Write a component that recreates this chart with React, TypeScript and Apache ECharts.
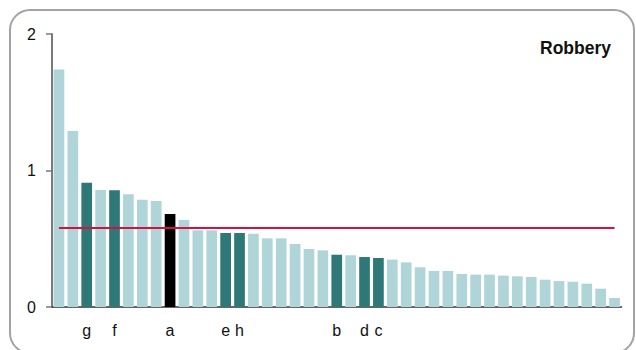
import React, { useEffect, useRef } from "react";
import * as echarts from "echarts";

const values = [
  1.74, 1.29, 0.91, 0.857, 0.855, 0.826, 0.786, 0.777, 0.681, 0.637,
  0.562, 0.562, 0.542, 0.542, 0.537, 0.503, 0.503, 0.462, 0.425, 0.415,
  0.383, 0.379, 0.366, 0.359, 0.347, 0.327, 0.291, 0.264, 0.264, 0.242,
  0.237, 0.237, 0.23, 0.225, 0.22, 0.2, 0.19, 0.185, 0.171, 0.134, 0.066,
];
const labels = [
  "", "", "g", "", "f", "", "", "", "a", "",
  "", "", "e", "h", "", "", "", "", "", "",
  "b", "", "d", "c", "", "", "", "", "", "",
  "", "", "", "", "", "", "", "", "", "", "",
];
const highlightedIdx = [2, 4, 12, 13, 20, 22, 23];
const focusIdx = [8];
const averageValue = 0.58;
const yTicks = [0, 1, 2];
const title = "Robbery";

const LIGHT = "#afd5d8";
const DARK = "#2e7878";
const FOCUS = "#000000";
const RED = "#d3123f";

export default function App() {
  const ref = useRef<HTMLDivElement>(null);
  useEffect(() => {
    if (!ref.current) return;
    const chart = echarts.init(ref.current, null, { renderer: "svg" });
    const cats = values.map((_, i) => String(i));
    chart.setOption({
      animation: false,
      backgroundColor: "#ffffff",
      textStyle: { fontFamily: "Liberation Sans, Arial, sans-serif" },
      grid: { left: 52, right: 14.5, top: 34, bottom: 43, containLabel: false },
      graphic: [
        {
          type: "rect",
          shape: { x: 10, y: 10, width: 624, height: 343, r: 20 },
          style: { fill: "none", stroke: "#a3a3a3", lineWidth: 2 },
          silent: true,
        },
        {
          type: "text",
          right: 25,
          top: 39,
          style: {
            text: title,
            fontSize: 17.5,
            fontWeight: "bold",
            fill: "#111",
            fontFamily: "Liberation Sans, Arial, sans-serif",
          },
        },
      ],
      xAxis: {
        type: "category",
        data: cats,
        boundaryGap: true,
        axisLine: { show: true, lineStyle: { color: "#333", width: 1.5 } },
        axisTick: { show: false },
        axisLabel: {
          interval: 0,
          margin: 15,
          fontSize: 16,
          color: "#111",
          formatter: (_v: string, i: number) => labels[i] ?? "",
        },
        splitLine: { show: false },
      },
      yAxis: {
        type: "value",
        min: yTicks[0],
        max: yTicks[yTicks.length - 1],
        interval: 1,
        axisLine: { show: true, lineStyle: { color: "#7a7a7a", width: 2 } },
        axisTick: { show: true, length: 6, lineStyle: { color: "#7a7a7a", width: 1.5 } },
        axisLabel: { margin: 16, fontSize: 16, color: "#111" },
        splitLine: { show: false },
      },
      series: [
        {
          type: "bar",
          barWidth: "77%",
          data: values.map((v, i) => ({
            value: v,
            itemStyle: {
              color: focusIdx.includes(i) ? FOCUS : highlightedIdx.includes(i) ? DARK : LIGHT,
            },
          })),
          markLine: {
            silent: true,
            symbol: ["none", "none"],
            label: { show: false },
            lineStyle: { color: RED, width: 2, type: "solid" },
            data: [
              [
                { coord: [cats[0], averageValue] },
                { coord: [cats[cats.length - 1], averageValue] },
              ],
            ],
          },
        },
      ],
    });
    return () => chart.dispose();
  }, []);
  return (
    <div
      ref={ref}
      style={{ position: "fixed", left: 0, top: 0, width: 636, height: 350 }}
    />
  );
}
